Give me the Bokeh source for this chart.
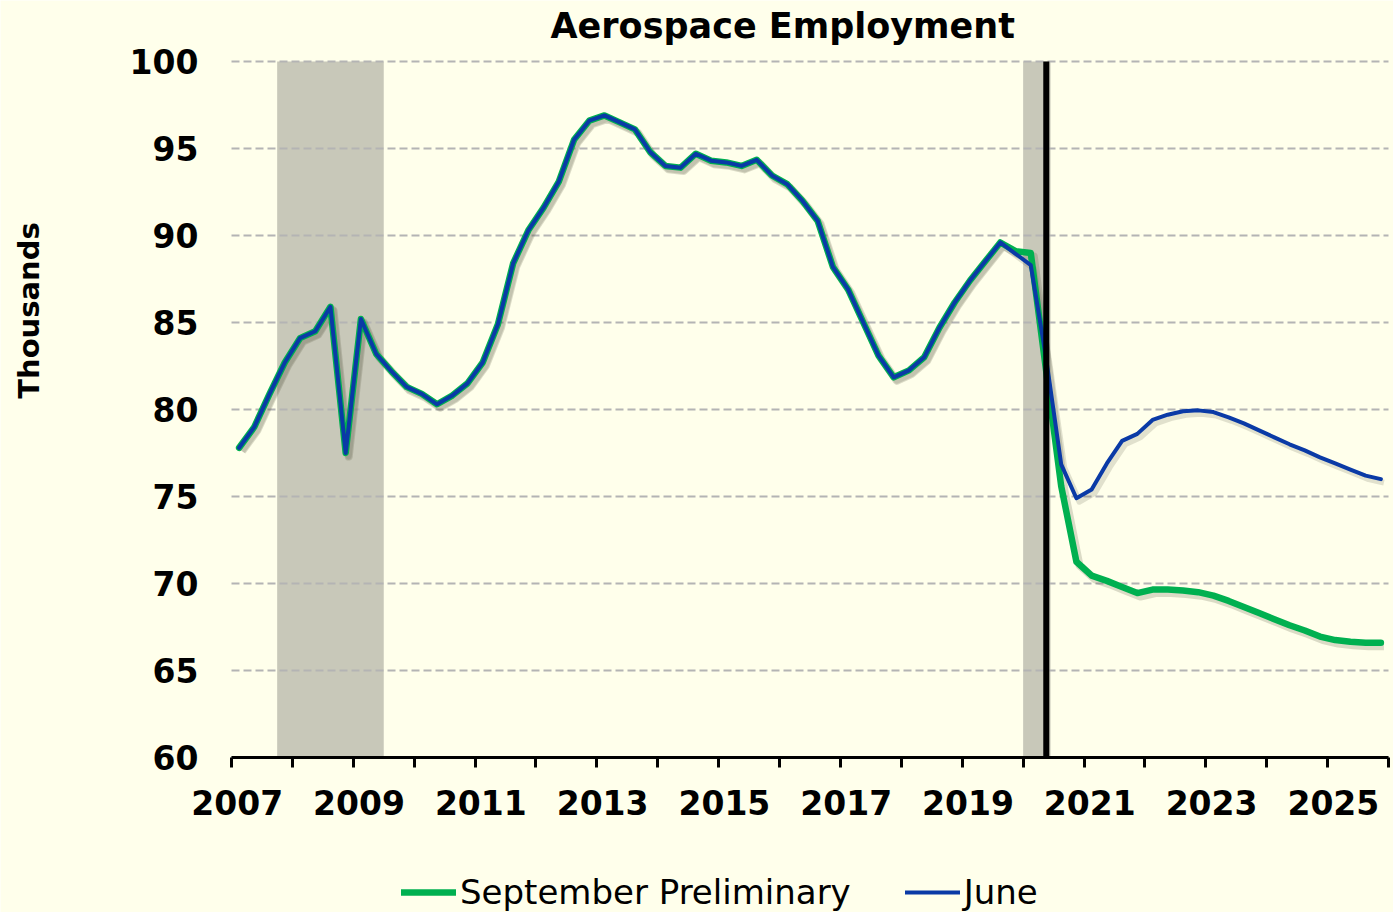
import math
from bokeh.plotting import figure
from bokeh.models import FixedTicker, Legend, LegendItem, ColumnDataSource, Label
from bokeh.embed import file_html
from bokeh.resources import INLINE

# ---------------- data ----------------
start_year = 2007
end_year = 2026
# quarterly values, 2007Q1 .. 2025Q4 (thousands)
sept_prelim = [
    77.8, 79.0, 80.9, 82.7,
    84.1, 84.5, 85.9, 77.5,
    85.2, 83.2, 82.2, 81.3,
    80.9, 80.3, 80.8, 81.5,
    82.7, 84.9, 88.4, 90.3,
    91.6, 93.1, 95.5, 96.6,
    96.9, 96.5, 96.1, 94.8,
    94.0, 93.9, 94.7, 94.3,
    94.2, 94.0, 94.35, 93.45,
    92.95, 92.0, 90.85, 88.2,
    86.9, 85.0, 83.1, 81.85,
    82.25, 83.0, 84.7, 86.15,
    87.4, 88.5, 89.6, 89.1,
    89.0, 82.3, 75.6, 71.25,
    70.45, 70.15, 69.8, 69.45,
    69.65, 69.65, 69.6, 69.5,
    69.3, 69.0, 68.65, 68.3,
    67.95, 67.6, 67.3, 66.95,
    66.75, 66.65, 66.6, 66.6,
]
june = [
    77.8, 79.0, 80.9, 82.7,
    84.1, 84.5, 85.9, 77.5,
    85.2, 83.2, 82.2, 81.3,
    80.9, 80.3, 80.8, 81.5,
    82.7, 84.9, 88.4, 90.3,
    91.6, 93.1, 95.5, 96.6,
    96.9, 96.5, 96.1, 94.8,
    94.0, 93.9, 94.7, 94.3,
    94.2, 94.0, 94.35, 93.45,
    92.95, 92.0, 90.85, 88.2,
    86.9, 85.0, 83.1, 81.85,
    82.25, 83.0, 84.7, 86.15,
    87.4, 88.5, 89.6, 88.95,
    88.3, 83.0, 76.85, 74.9,
    75.4, 76.9, 78.2, 78.6,
    79.4, 79.7, 79.9, 79.95,
    79.85, 79.55, 79.2, 78.8,
    78.4, 78.0, 77.65, 77.25,
    76.9, 76.55, 76.2, 76.0,
]
recession_start = [2007.75, 2020.0]
recession_end = [2009.5, 2020.45]
forecast_start = 2020.38
y_min, y_max = 60, 100
x_label_years = list(range(2007, 2026, 2))
x_minor_years = list(range(2008, 2027, 2))
y_ticks = [60, 65, 70, 75, 80, 85, 90, 95, 100]

quarter_dates = [y + (q - 0.5) / 4 for y in range(start_year, end_year) for q in range(1, 5)]

# ---------------- layout (pixels) ----------------
W, H = 1393, 912
PLOT_LEFT, PLOT_RIGHT = 231, 1388      # x = 2007 and x = 2026
PLOT_TOP, PLOT_BOTTOM = 61, 757        # y = 100 and y = 60
px_per_year = (PLOT_RIGHT - PLOT_LEFT) / (end_year - start_year)
px_per_unit = (PLOT_BOTTOM - PLOT_TOP) / (y_max - y_min)


def x_at(px):
    return start_year + (px - PLOT_LEFT) / px_per_year


def y_at(py):
    return y_max + (PLOT_TOP - py) / px_per_unit


# ---------------- style ----------------
BG = "#FFFFEB"
GREEN = "#00B050"
BLUE = "#0A3AA6"
SHADE = "#C8C8B9"
GRID = "#B4B4B4"
FONT = "DejaVu Sans"
NB = "\u00a0"

# the frame covers the whole canvas; axes sit at fixed data locations
p = figure(width=W, height=H, x_range=(x_at(0), x_at(W)), y_range=(y_at(H), y_at(0)),
           title=None, output_backend="svg", toolbar_location=None,
           background_fill_color=BG, border_fill_color=BG,
           min_border_left=0, min_border_right=0, min_border_top=0, min_border_bottom=0)
p.outline_line_color = None
p.xgrid.visible = False
p.ygrid.visible = False

# title
p.add_layout(Label(x=x_at(550), y=y_at(25), text="Aerospace Employment",
                   text_font=FONT, text_font_size="35px", text_font_style="bold",
                   text_color="black", text_align="left", text_baseline="middle"))

# y axis title
p.add_layout(Label(x=x_at(28), y=y_at(310), text="Thousands", angle=math.pi / 2,
                   text_font=FONT, text_font_size="29px", text_font_style="bold",
                   text_color="black", text_align="center", text_baseline="middle"))

# recession shading
shade_src = ColumnDataSource(dict(left=recession_start, right=recession_end))
p.quad(left="left", right="right", bottom=y_min, top=y_max, source=shade_src,
       fill_color=SHADE, line_color=None)

# horizontal grid lines
p.segment(x0=[start_year] * len(y_ticks), x1=[end_year] * len(y_ticks),
          y0=y_ticks, y1=y_ticks, line_color=GRID, line_dash="8 4", line_width=2)

# shadows
dx, dy = 0.05, -0.2
sx = [d + dx for d in quarter_dates]
p.line(sx, [v + dy for v in sept_prelim], line_color="#5A5A46", line_alpha=0.22,
       line_width=8, line_join="round")
p.line(sx, [v + dy for v in june], line_color="#5A5A46", line_alpha=0.18,
       line_width=6, line_join="round")

g = p.line(quarter_dates, sept_prelim, line_color=GREEN, line_width=6.5, line_join="round",
           line_cap="round")
b = p.line(quarter_dates, june, line_color=BLUE, line_width=4, line_join="round",
           line_cap="round")

# forecast marker
p.segment(x0=[forecast_start], y0=[y_min], x1=[forecast_start], y1=[y_max],
          line_color="black", line_width=6)

# axes
yax = p.yaxis[0]
yax.fixed_location = start_year
yax.ticker = FixedTicker(ticks=y_ticks)
yax.axis_line_color = None
yax.major_tick_line_color = None
yax.minor_tick_line_color = None
yax.major_tick_out = 0
yax.major_tick_in = 0
yax.major_label_standoff = 33
yax.major_label_text_font = FONT
yax.major_label_text_font_size = "33px"
yax.major_label_text_font_style = "bold"
yax.major_label_text_color = "black"

xax = p.xaxis[0]
xax.fixed_location = y_min
xax.bounds = (start_year, end_year)
xax.ticker = FixedTicker(ticks=x_label_years, minor_ticks=x_minor_years)
xax.major_label_overrides = {yr: NB + str(yr) for yr in x_label_years}
xax.axis_line_color = "black"
xax.axis_line_width = 3
xax.major_tick_line_color = "black"
xax.major_tick_line_width = 3
xax.major_tick_in = 0
xax.major_tick_out = 10
xax.minor_tick_line_color = "black"
xax.minor_tick_line_width = 3
xax.minor_tick_in = 0
xax.minor_tick_out = 10
xax.major_label_standoff = 16
xax.major_label_text_font = FONT
xax.major_label_text_font_size = "33px"
xax.major_label_text_font_style = "bold"
xax.major_label_text_color = "black"

# legend
legend = Legend(items=[LegendItem(label="September Preliminary", renderers=[g]),
                       LegendItem(label="June", renderers=[b])],
                orientation="horizontal", location=(401, 0),
                label_text_font=FONT, label_text_font_size="34px", label_text_color="black",
                glyph_width=55, glyph_height=20, label_standoff=4, spacing=54,
                padding=0, margin=0, border_line_color=None, background_fill_alpha=0)
p.add_layout(legend)

open("out.html", "w").write(file_html(p, INLINE))
